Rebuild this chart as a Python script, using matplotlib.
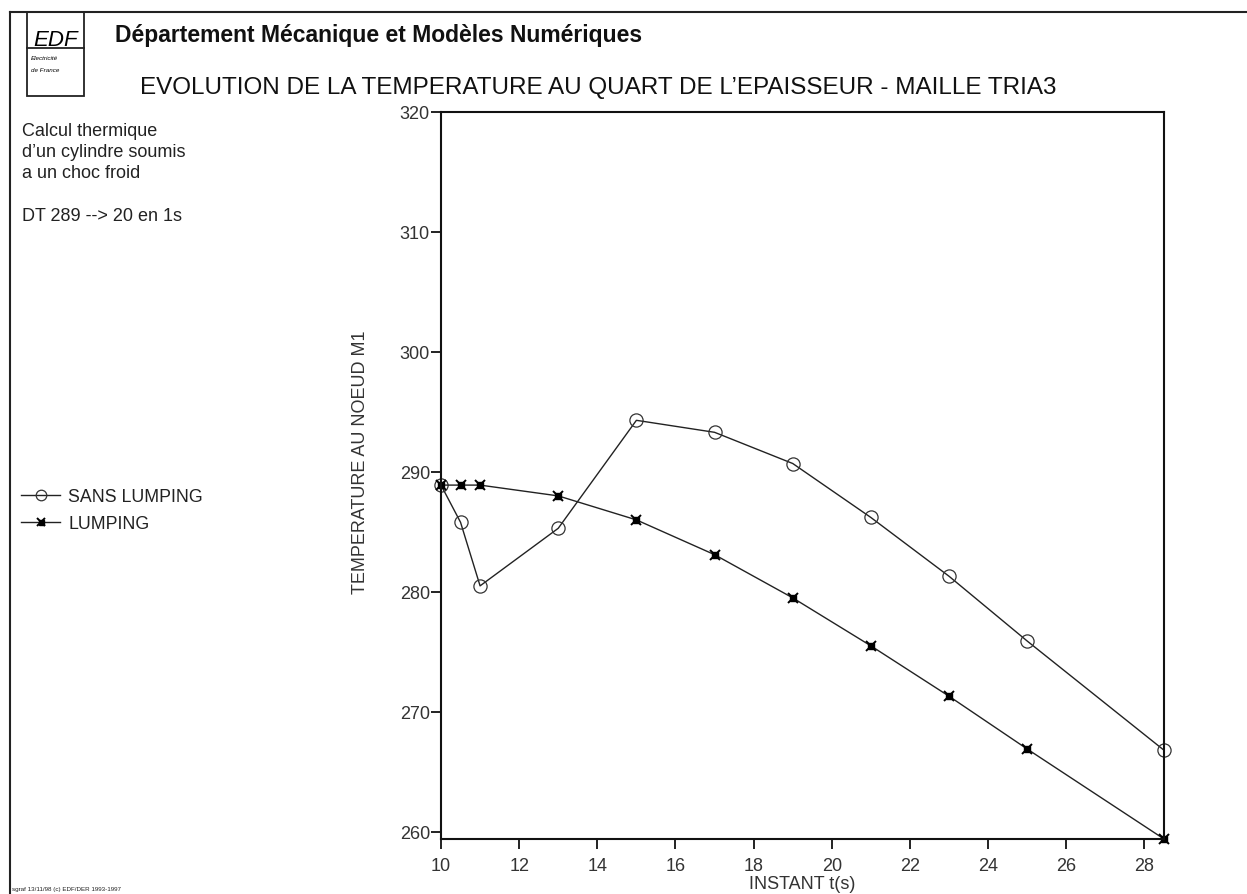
import matplotlib.pyplot as plt
from matplotlib.lines import Line2D
from matplotlib.patches import Rectangle

plt.rcParams['font.family'] = ['Liberation Sans', 'DejaVu Sans']

# Data
t_sans = [10, 10.5, 11, 13, 15, 17, 19, 21, 23, 25, 28.5]
temp_sans = [288.9, 285.8, 280.5, 285.3, 294.3, 293.3, 290.7, 286.2, 281.3, 275.9, 266.8]
t_lump = [10, 10.5, 11, 13, 15, 17, 19, 21, 23, 25, 28.5]
temp_lump = [288.9, 288.9, 288.9, 288.0, 286.0, 283.1, 279.5, 275.5, 271.3, 266.9, 259.4]

xticks = [10, 12, 14, 16, 18, 20, 22, 24, 26, 28]
yticks = [260, 270, 280, 290, 300, 310, 320]

W, H = 1247, 895
fig = plt.figure(figsize=(W / 100, H / 100), dpi=100)


def fx(px):
    return px / W


def fy(py):
    return 1 - py / H


# Page frame and logo box
fig.add_artist(Line2D([fx(10), 1], [fy(13), fy(13)], color='#222', lw=1.5))
fig.add_artist(Line2D([fx(10), fx(10)], [fy(13), 0], color='#222', lw=1.5))
fig.add_artist(Rectangle((fx(27), fy(97)), fx(84) - fx(27), fy(13) - fy(97),
                         fill=False, ec='#222', lw=1.3))
fig.add_artist(Line2D([fx(27), fx(84)], [fy(49), fy(49)], color='#222', lw=1.3))
fig.text(fx(33), fy(46), 'EDF', fontsize=16, style='italic', va='baseline')
fig.text(fx(31), fy(60), 'Electricité', fontsize=4.5, style='italic', va='baseline')
fig.text(fx(31), fy(72), 'de France', fontsize=4.5, style='italic', va='baseline')

# Titles
fig.text(fx(115), fy(42), 'Département Mécanique et Modèles Numériques',
         fontsize=16.5, fontweight='bold', va='baseline', color='#111')
fig.text(fx(140), fy(94), 'EVOLUTION DE LA TEMPERATURE AU QUART DE L\u2019EPAISSEUR - MAILLE TRIA3',
         fontsize=17.5, va='baseline', color='#111')

# Side notes
notes = ['Calcul thermique', 'd\u2019un cylindre soumis', 'a un choc froid']
for i, s in enumerate(notes):
    fig.text(fx(22), fy(136 + i * 21), s, fontsize=13, va='baseline', color='#222')
fig.text(fx(22), fy(221), 'DT 289 --> 20 en 1s', fontsize=13, va='baseline', color='#222')
fig.text(fx(12), fy(891), 'sgraf 13/11/98 (c) EDF/DER 1993-1997', fontsize=4.5,
         va='baseline', color='#222')

# Main axes
ax = fig.add_axes([fx(441), fy(840), fx(1164) - fx(441), fy(113) - fy(840)])

l1, = ax.plot(t_sans, temp_sans, color='#222', lw=1.0, marker='o', ms=9.5,
              mfc='none', mec='#333', mew=0.9, clip_on=False)
l2, = ax.plot(t_lump, temp_lump, color='#222', lw=1.0, marker='x', ms=7,
              mec='black', mew=1.4, clip_on=False)
l3, = ax.plot(t_lump, temp_lump, ls='none', marker='s', ms=4.5,
              mfc='black', mec='black', clip_on=False)

ax.set_xlim(10, 28.5)
ax.set_ylim(259.4, 320)
ax.set_xticks(xticks)
ax.set_yticks(yticks)
for sp in ax.spines.values():
    sp.set_linewidth(1.5)
    sp.set_color('#111')
ax.tick_params(direction='out', length=7, width=1.3, labelsize=13,
               colors='#111')
ax.tick_params(axis='y', pad=1)
ax.tick_params(axis='x', pad=6)
for lab in ax.get_xticklabels() + ax.get_yticklabels():
    lab.set_color('#333')

ax.set_ylabel('TEMPERATURE AU NOEUD M1', fontsize=13, color='#333')
ax.yaxis.set_label_coords(-0.100, 0.52)
ax.set_xlabel('INSTANT t(s)', fontsize=13, color='#333')
ax.xaxis.set_label_coords(0.50, -0.050)

fig.legend([l1, (l2, l3)], ['SANS LUMPING', 'LUMPING'], loc='upper left',
           bbox_to_anchor=(fx(21), fy(489)), frameon=False, fontsize=12.8,
           handlelength=2.2, handletextpad=0.45, borderpad=0, borderaxespad=0,
           labelspacing=0.56, labelcolor='#222', markerscale=0.8)

fig.savefig('out.png', dpi=100)
